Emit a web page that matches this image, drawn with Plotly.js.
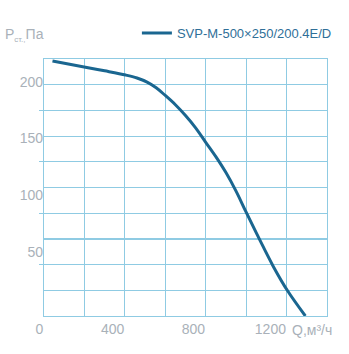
<!DOCTYPE html>
<html>
<head>
<meta charset="utf-8">
<script src="https://cdn.plot.ly/plotly-3.0.1.min.js"></script>
<style>html,body{margin:0;padding:0;background:#fff;}#chart{width:349px;height:354px;}</style>
</head>
<body>
<div id="chart"></div>
<script>
// Data
var seriesName = 'SVP-M-500×250/200.4E/D';
var flowRate = [42, 205, 300, 404, 460, 510, 555, 600, 650, 700, 750, 800, 850, 900, 950, 1000, 1065, 1135, 1205, 1293];
var pressure = [248, 242, 238.5, 234.4, 231.5, 227.5, 222, 214.5, 205.5, 195, 183, 169, 155, 139.5, 121.5, 101, 75, 48, 24.5, 0];
var xTickVals = [0, 400, 800, 1200];
var xTickText = ['0', '400', '800', '1200'];
var yTickVals = [50, 100, 150, 200];
var yTickText = ['50', '100', '150', '200'];
var xTitle = 'Q,м³/ч';
var yTitle = 'P<sub><span style="font-size:8px">ст.,</span></sub>Па';

var gridColor = '#8fcbe3';
var labelColor = '#a9b1b9';
var lineColor = '#1a6690';
var font = '"Liberation Sans", Arial, sans-serif';

var trace = {
  x: flowRate, y: pressure, type: 'scatter', mode: 'lines',
  name: seriesName,
  line: {color: lineColor, width: 3, shape: 'spline', smoothing: 1},
  hoverinfo: 'skip'
};
// empty helper trace so the label axis (y2) is drawn
var labelAxisTrace = {x: [], y: [], type: 'scatter', mode: 'lines', xaxis: 'x', yaxis: 'y2', showlegend: false, hoverinfo: 'skip'};

var layout = {
  width: 349, height: 354,
  margin: {l: 44, r: 14, t: 59, b: 38, pad: 0},
  paper_bgcolor: '#fff', plot_bgcolor: '#fff',
  font: {family: font, size: 14, color: labelColor},
  showlegend: true,
  legend: {
    orientation: 'h', x: 1.035, xanchor: 'right', y: 1.101, yanchor: 'middle',
    font: {family: font, size: 13, color: '#2f6f98'},
    bgcolor: 'rgba(0,0,0,0)', borderwidth: 0
  },
  xaxis: {
    range: [0, 1400], tickmode: 'array', tickvals: xTickVals, ticktext: xTickText,
    ticks: '', ticklabelposition: 'outside left',
    tickfont: {family: font, size: 14, color: labelColor},
    showgrid: true, gridcolor: gridColor, gridwidth: 1.2,
    minor: {tickmode: 'array', tickvals: [200, 600, 1000], showgrid: true, gridcolor: gridColor, gridwidth: 1.2, ticks: ''},
    showline: true, mirror: true, linecolor: gridColor, linewidth: 1.2,
    zeroline: false, fixedrange: true
  },
  xaxis2: {
    overlaying: 'x', anchor: 'y', side: 'bottom', range: [0, 1400],
    tickmode: 'array', tickvals: [400, 800, 1200], ticks: 'outside', ticklen: 7, tickwidth: 1.2, tickcolor: gridColor,
    showticklabels: false, showgrid: false, showline: false, zeroline: false, fixedrange: true
  },
  yaxis: {
    range: [0, 250], tickmode: 'array', tickvals: yTickVals,
    ticks: 'outside', ticklen: 4, tickwidth: 1.2, tickcolor: gridColor,
    showticklabels: false,
    showgrid: true, gridcolor: gridColor, gridwidth: 1.2,
    minor: {tickmode: 'array', tickvals: [25, 75, 125, 175, 225], showgrid: true, gridcolor: gridColor, gridwidth: 1.2, ticks: ''},
    showline: true, mirror: true, linecolor: gridColor, linewidth: 1.2,
    zeroline: false, fixedrange: true
  },
  yaxis2: {
    overlaying: 'y', anchor: 'x', side: 'left', range: [-6.4, 219.9],
    tickmode: 'array', tickvals: yTickVals, ticktext: yTickText, ticks: '',
    tickfont: {family: font, size: 14, color: labelColor},
    showgrid: false, showline: false, zeroline: false, fixedrange: true
  },
  annotations: [
    {text: yTitle, xref: 'paper', yref: 'paper', x: -0.145, y: 1.093, xanchor: 'left', yanchor: 'middle',
     showarrow: false, font: {family: font, size: 14, color: labelColor}},
    {text: xTitle, xref: 'paper', yref: 'paper', x: 0.869, y: -0.0545, xanchor: 'left', yanchor: 'middle',
     showarrow: false, font: {family: font, size: 14, color: labelColor}}
  ]
};

Plotly.newPlot('chart', [trace, labelAxisTrace], layout, {displayModeBar: false, staticPlot: true});
</script>
</body>
</html>
